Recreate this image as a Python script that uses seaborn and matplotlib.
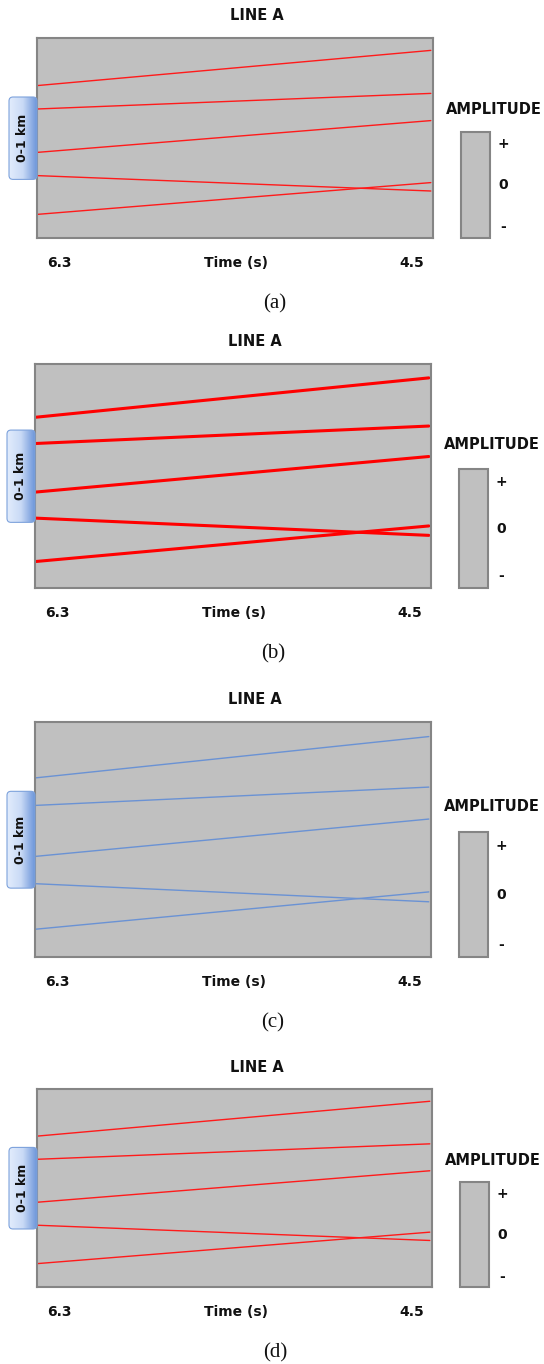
import numpy as np
import pandas as pd
import matplotlib
matplotlib.use("Agg")
import matplotlib.pyplot as plt
from matplotlib.patches import FancyBboxPatch, Rectangle
from matplotlib.colors import LinearSegmentedColormap
import seaborn as sns

sns.set_theme(style="white")
plt.rcParams["font.family"] = ["DejaVu Sans"]

# Data
horizons = ["H1", "H2", "H3", "H4", "H5"]
time_start = 6.3
time_end = 4.51
depth_start = [0.238, 0.355, 0.572, 0.688, 0.882]   # fraction of 0-1 km, left end
depth_end = [0.062, 0.277, 0.413, 0.765, 0.723]     # right end
time_labels = ["6.3", "Time (s)", "4.5"]
amp_labels = ["+", "0", "-"]
panel_names = ["(a)", "(b)", "(c)", "(d)"]

# long-form table for seaborn
df = pd.DataFrame({
    "horizon": horizons * 2,
    "time": [time_start] * len(horizons) + [time_end] * len(horizons),
    "depth": depth_start + depth_end,
})

W, H = 544, 1364
fig = plt.figure(figsize=(W / 100, H / 100), dpi=100)

# panel boxes in pixels: left, top, right, bottom
boxes = [(37, 38, 433, 238), (35, 364, 431, 588), (35, 722, 431, 957), (37, 1089, 432, 1287)]
line_colors = ["#ff1a1a", "#ff0000", "#6a92d4", "#ff1a1a"]
line_widths = [1.0, 2.2, 1.0, 1.0]

# overlay in pixel coordinates for annotations
over = fig.add_axes([0, 0, 1, 1], zorder=5)
over.set_xlim(0, W)
over.set_ylim(H, 0)
over.axis("off")
over.patch.set_alpha(0)

tag_cmap = LinearSegmentedColormap.from_list("tag", ["#e2ecfc", "#c9daf6", "#6d96da"])

for (L, T, R, B), name, c, lw in zip(boxes, panel_names, line_colors, line_widths):
    h = B - T
    ax = fig.add_axes([L / W, 1 - B / H, (R - L) / W, h / H])
    sns.lineplot(data=df, x="time", y="depth", units="horizon", estimator=None,
                 color=c, linewidth=lw, ax=ax, legend=False)
    ax.set_xlim(6.3, 4.5)
    ax.set_ylim(1, 0)
    ax.set_facecolor("#c0c0c0")
    ax.set_xticks([])
    ax.set_yticks([])
    ax.set_xlabel("")
    ax.set_ylabel("")
    for s in ax.spines.values():
        s.set_color("#858585")
        s.set_linewidth(1.5)

    # title
    over.text(L + 220, T - 22, "LINE A", ha="center", va="center",
              fontsize=10.5, fontweight="bold", color="#111111")
    # time labels
    for x, t in zip([L + 22, L + 199, L + 375], time_labels):
        over.text(x, B + 25, t, ha="center", va="center",
                  fontsize=10, fontweight="bold", color="#111111")
    # caption
    over.text(L + 238, B + 66, name, ha="center", va="center",
              fontsize=15, family="Liberation Serif", color="#111111")

    # amplitude bar
    cb_top = B - 0.53 * h
    over.add_patch(Rectangle((R + 28, cb_top), 29, B - cb_top, facecolor="#c0c0c0",
                             edgecolor="#858585", linewidth=1.5))
    over.text(R + 13, T + 0.36 * h, "AMPLITUDE", ha="left", va="center",
              fontsize=10.5, fontweight="bold", color="#111111")
    for f, t in zip([0.11, 0.5, 0.9], amp_labels):
        over.text(R + 70, cb_top + f * (B - cb_top), t, ha="center", va="center",
                  fontsize=10, fontweight="bold", color="#111111")

    # depth tag
    ty0 = T + 0.295 * h
    ty1 = T + 0.707 * h
    tag = FancyBboxPatch((L - 28, ty0), 28, ty1 - ty0,
                         boxstyle="round,pad=0,rounding_size=4",
                         facecolor="none", edgecolor="#7da2dc", linewidth=0.8)
    over.add_patch(tag)
    im = over.imshow(np.linspace(0, 1, 64).reshape(1, -1), cmap=tag_cmap, aspect="auto",
                     extent=(L - 28, L, ty1, ty0))
    im.set_clip_path(tag)
    over.text(L - 14, (ty0 + ty1) / 2, "0-1 km", rotation=90, ha="center", va="center",
              fontsize=9, fontweight="bold", color="#111111")

over.set_xlim(0, W)
over.set_ylim(H, 0)

plt.savefig("out.png", dpi=100, facecolor="white")
